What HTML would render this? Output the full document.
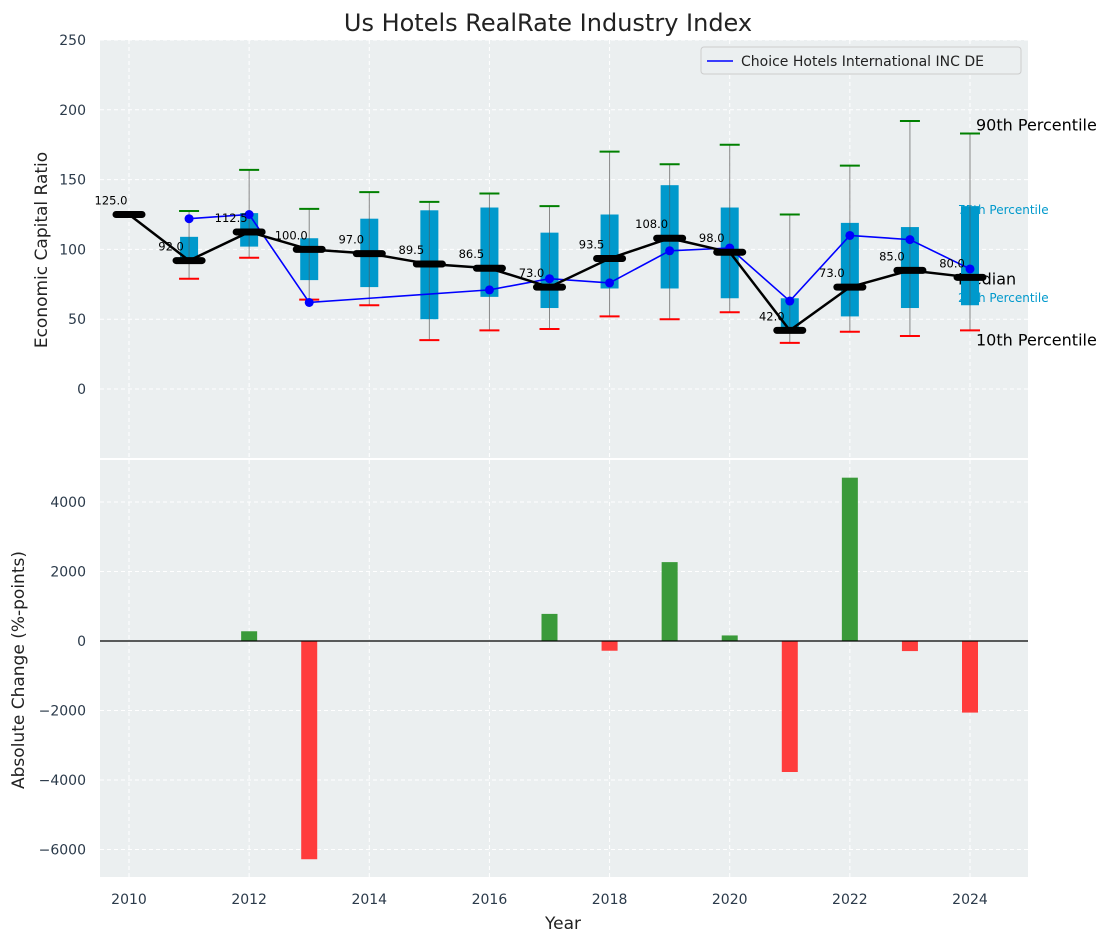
<!DOCTYPE html>
<html><head><meta charset="utf-8"><style>
body{margin:0;background:#fff;font-family:"Liberation Sans","DejaVu Sans",sans-serif}
svg text{font-family:"DejaVu Sans","Liberation Sans",sans-serif}
</style></head><body>
<svg id="c" width="1111" height="942" xmlns="http://www.w3.org/2000/svg"></svg>
<script>
const years=[2010,2011,2012,2013,2014,2015,2016,2017,2018,2019,2020,2021,2022,2023,2024];
const medians=[125,92,112.5,100,97,89.5,86.5,73,93.5,108,98,42,73,85,80];
const q1=[null,91,102,78,73,50,66,58,72,72,65,42,52,58,60];
const q3=[null,109,126,108,122,128,130,112,125,146,130,65,119,116,131];
const p10=[null,79,94,64,60,35,42,43,52,50,55,33,41,38,42];
const p90=[null,127.5,157,129,141,134,140,131,170,161,175,125,160,192,183];
const company=[null,122,125,62,null,null,71,79,76,99,101,63,110,107,86];
const changes=[0,0,280,-6280,0,0,0,780,-280,2270,160,-3770,4700,-290,-2060];
const topTicks=[0,50,100,150,200,250];
const botTicks=[-6000,-4000,-2000,0,2000,4000];
const xTicks=[2010,2012,2014,2016,2018,2020,2022,2024];

const NS="http://www.w3.org/2000/svg",svg=document.getElementById('c');
function el(t,a,p){const e=document.createElementNS(NS,t);for(const k in a)e.setAttribute(k,a[k]);(p||svg).appendChild(e);return e;}
const L=100,R=1028;
const x=v=>129+(v-2010)*(970-129)/14;
const yT=v=>389-v*(389-40)/250;
const yB=v=>641-v*(641-502)/4000;

let g=el('rect',{x:L,y:40,width:R-L,height:418,fill:'#ebeff0'});

g=el('rect',{x:L,y:460,width:R-L,height:417,fill:'#ebeff0'});

xTicks.forEach(v=>{el('line',{x1:x(v),x2:x(v),y1:40,y2:458,stroke:'#fff','stroke-dasharray':'4,3'});el('line',{x1:x(v),x2:x(v),y1:460,y2:877,stroke:'#fff','stroke-dasharray':'4,3'});
 const t=el('text',{x:x(v),y:904,'text-anchor':'middle','font-size':14,fill:'#2b3a4a'});t.textContent=v;
 });
topTicks.forEach(v=>{el('line',{x1:L,x2:R,y1:yT(v),y2:yT(v),stroke:'#fff','stroke-dasharray':'4,3'});
 const t=el('text',{x:86,y:yT(v)+5,'text-anchor':'end','font-size':14,fill:'#2b3a4a'});t.textContent=v;
 });
botTicks.forEach(v=>{el('line',{x1:L,x2:R,y1:yB(v),y2:yB(v),stroke:'#fff','stroke-dasharray':'4,3'});
 const t=el('text',{x:86,y:yB(v)+5,'text-anchor':'end','font-size':14,fill:'#2b3a4a'});t.textContent=v.toString().replace('-','\u2212');
 });

// percentile labels (behind boxes)
const lx=x(2024);
[['90th Percentile',p90[14],16,'#000',-3,6],['75th Percentile',q3[14],12,'#0099cc',8,-12],['Median',medians[14],16,'#000',7,-12],['25th Percentile',q1[14],12,'#0099cc',-3,-12],['10th Percentile',p10[14],16,'#000',15,6]].forEach(a=>{
 const t=el('text',{x:lx+a[5],y:yT(a[1])+a[4],'font-size':a[2],fill:a[3]});t.textContent=a[0];
 });

years.forEach((yr,i)=>{
 if(q1[i]===null)return;
 const cx=x(yr);
 let w=el('line',{x1:cx,x2:cx,y1:yT(p90[i]),y2:yT(p10[i]),stroke:'#888','stroke-width':1});
 
 let b=el('rect',{x:cx-9,y:yT(q3[i]),width:18,height:yT(q1[i])-yT(q3[i]),fill:'#0099cc'});
 
 el('line',{x1:cx,x2:cx,y1:yT(q3[i]),y2:yT(q1[i]),stroke:'#555','stroke-width':1,opacity:0.6});
 let c=el('line',{x1:cx-10,x2:cx+10,y1:yT(p90[i]),y2:yT(p90[i]),stroke:'green','stroke-width':2});
 
 c=el('line',{x1:cx-10,x2:cx+10,y1:yT(p10[i]),y2:yT(p10[i]),stroke:'red','stroke-width':2});
 
});
let pts=[];
years.forEach((yr,i)=>{if(company[i]!==null)pts.push(x(yr)+','+yT(company[i]));});
let pl=el('polyline',{points:pts.join(' '),fill:'none',stroke:'blue','stroke-width':1.6});

years.forEach((yr,i)=>{if(company[i]===null)return;const d=el('circle',{cx:x(yr),cy:yT(company[i]),r:4.5,fill:'blue'});
 });
pl=el('polyline',{points:years.map((yr,i)=>x(yr)+','+yT(medians[i])).join(' '),fill:'none',stroke:'#000','stroke-width':2.5});

years.forEach((yr,i)=>{const cx=x(yr),cy=yT(medians[i]);
 const m=el('line',{x1:cx-13,x2:cx+13,y1:cy,y2:cy,stroke:'#000','stroke-width':7,'stroke-linecap':'round'});
 
 const t=el('text',{x:cx-18,y:cy-10,'text-anchor':'middle','font-size':11.5,fill:'#000'});t.textContent=medians[i].toFixed(1);
 });

years.forEach((yr,i)=>{const v=changes[i];if(!v)return;const y0=yB(0),y1=yB(v);
 const b=el('rect',{x:x(yr)-8,y:Math.min(y0,y1),width:16,height:Math.abs(y1-y0),fill:v>0?'#3a9a3a':'#ff3c3c'});
 });
el('line',{x1:L,x2:R,y1:yB(0),y2:yB(0),stroke:'#000','stroke-width':1.2});

g=el('g',{});
el('rect',{x:701,y:47,width:320,height:27,fill:'#ebeff0',stroke:'#ccc',rx:3},g);
el('line',{x1:707,x2:733,y1:61,y2:61,stroke:'blue','stroke-width':1.6},g);
let t=el('text',{x:741,y:66,'font-size':14,fill:'#222'},g);t.textContent='Choice Hotels International INC DE';

t=el('text',{x:548,y:31,'text-anchor':'middle','font-size':24,fill:'#222'});t.textContent='Us Hotels RealRate Industry Index';

t=el('text',{x:563,y:929,'text-anchor':'middle','font-size':17,fill:'#222'});t.textContent='Year';

t=el('text',{x:0,y:0,'text-anchor':'middle','font-size':17,fill:'#222',transform:'translate(47,250) rotate(-90)'});t.textContent='Economic Capital Ratio';

t=el('text',{x:0,y:0,'text-anchor':'middle','font-size':17,fill:'#222',transform:'translate(24,670) rotate(-90)'});t.textContent='Absolute Change (%-points)';

</script>
</body></html>
